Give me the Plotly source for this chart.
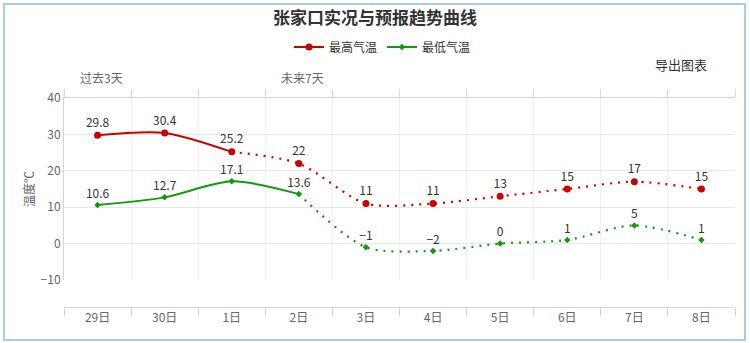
import plotly.graph_objects as go

categories = ["29日", "30日", "1日", "2日", "3日", "4日", "5日", "6日", "7日", "8日"]
max_temp = [29.8, 30.4, 25.2, 22, 11, 11, 13, 15, 17, 15]
min_temp = [10.6, 12.7, 17.1, 13.6, -1, -2, 0, 1, 5, 1]
max_solid_end = 2   # last observed index drawn solid (max)
min_solid_end = 3   # last observed index drawn solid (min)
top_labels = ["过去3天", "未来7天"]
top_label_pos = [0, 3]
y_ticks = [-10, 0, 10, 20, 30, 40]

RED = "#cc0000"
GREEN = "#119911"
FONT = "Noto Sans CJK SC"


def fmt(v):
    return f"{v:g}".replace("-", "\u2212")


idx = list(range(len(categories)))
fig = go.Figure()


def add_series(vals, solid_end, color, name, symbol, msize):
    fig.add_trace(go.Scatter(
        x=idx[:solid_end + 1], y=vals[:solid_end + 1], mode="lines",
        line=dict(color=color, width=2, shape="spline", smoothing=0.8),
        showlegend=False, hoverinfo="skip"))
    fig.add_trace(go.Scatter(
        x=idx[solid_end:], y=vals[solid_end:], mode="lines",
        line=dict(color=color, width=2.2, shape="spline", smoothing=0.8, dash="2px,6px"),
        showlegend=False, hoverinfo="skip"))
    fig.add_trace(go.Scatter(
        x=idx, y=vals, mode="markers+text",
        marker=dict(color=color, size=msize, symbol=symbol),
        text=[fmt(v) for v in vals], textposition="top center",
        textfont=dict(family=FONT, size=12, color="#333333"),
        showlegend=False, cliponaxis=False))
    fig.add_trace(go.Scatter(
        x=[None], y=[None], mode="lines+markers", name=name,
        line=dict(color=color, width=2),
        marker=dict(color=color, size=msize, symbol=symbol)))


add_series(max_temp, max_solid_end, RED, "最高气温", "circle", 7)
add_series(min_temp, min_solid_end, GREEN, "最低气温", "diamond", 5)

# dummy trace to activate the top axis
fig.add_trace(go.Scatter(x=[None], y=[None], xaxis="x2", showlegend=False, hoverinfo="skip"))

boundaries = [i - 0.5 for i in range(len(categories) + 1)]

fig.update_layout(
    width=750, height=343,
    margin=dict(l=64, r=15, t=98, b=36),
    paper_bgcolor="white", plot_bgcolor="white",
    font=dict(family=FONT, color="#666666", size=12),
    title=dict(text="<b>张家口实况与预报趋势曲线</b>", x=0.5, xref="container", xanchor="center",
               y=1 - 18 / 343, yref="container", yanchor="middle",
               font=dict(family=FONT, size=17, color="#333333")),
    legend=dict(orientation="h", x=0.51, xanchor="center", xref="container",
                y=1 - 47 / 343, yref="container", yanchor="middle",
                font=dict(family=FONT, size=12, color="#333333"),
                itemwidth=30, tracegroupgap=0),
    xaxis=dict(
        range=[-0.5, len(categories) - 0.5], tickmode="array", tickvals=idx, ticktext=categories,
        showgrid=False, zeroline=False,
        anchor="free", position=0,
        showline=True, linecolor="#ccd6eb", linewidth=1,
        ticks="", tickfont=dict(family=FONT, size=12, color="#666666"),
        minor=dict(tickvals=boundaries, ticks="outside", ticklen=8, tickcolor="#ccd6eb",
                   showgrid=True, gridcolor="#eef0f5", gridwidth=1),
    ),
    xaxis2=dict(
        range=[-0.5, len(categories) - 0.5], overlaying="x", side="top", anchor="y",
        tickmode="array", tickvals=[], showticklabels=False, showgrid=False, zeroline=False,
        showline=True, linecolor="#ccd6eb", linewidth=1,
        minor=dict(tickvals=boundaries, ticks="outside", ticklen=8, tickcolor="#ccd6eb", showgrid=False),
    ),
    yaxis=dict(
        range=[-10, 40], domain=[27 / 209, 1], tickvals=y_ticks,
        showgrid=True, gridcolor="#e6e6e6", gridwidth=1, zeroline=False,
        showline=True, linecolor="#ccd6eb", linewidth=1,
        ticks="", tickfont=dict(family=FONT, size=12, color="#666666"),
        title=dict(text="温度℃", font=dict(family=FONT, size=12, color="#666666"), standoff=3),
    ),
    shapes=[dict(type="rect", xref="paper", yref="paper",
                 x0=(4 - 64) / 671, x1=(745 - 64) / 671,
                 y0=(307 - 340) / 209, y1=(307 - 4) / 209,
                 line=dict(color="#a9cdef", width=2), fillcolor="rgba(0,0,0,0)", layer="below")],
    annotations=[
        dict(text="导出图表", xref="paper", yref="paper", x=(681 - 64) / 671, y=(307 - 64) / 209,
             showarrow=False, font=dict(family=FONT, size=13, color="#333333"),
             xanchor="center", yanchor="middle"),
    ] + [
        dict(text=t, xref="x", yref="paper", x=p, xshift=3.5, y=(307 - 77) / 209,
             showarrow=False, font=dict(family=FONT, size=12, color="#666666"),
             xanchor="center", yanchor="middle")
        for t, p in zip(top_labels, top_label_pos)
    ],
)

fig.write_html("out.html")
